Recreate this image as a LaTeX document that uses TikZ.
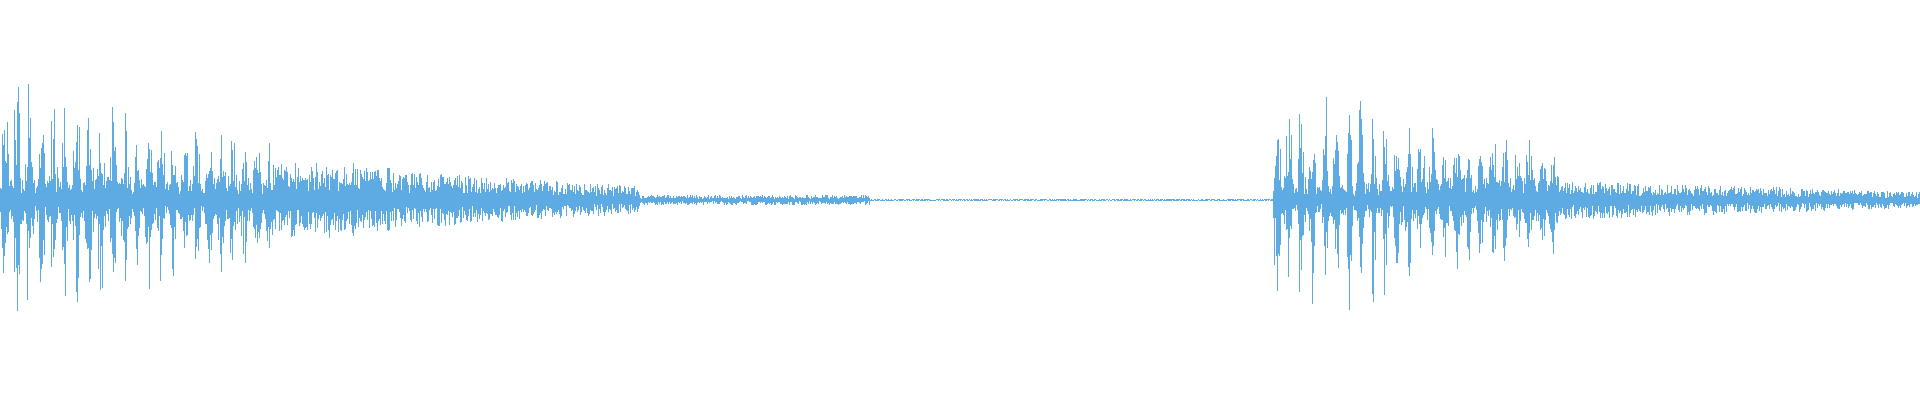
\documentclass[tikz,border=0pt]{standalone}
\begin{document}
\begin{tikzpicture}[x=1pt,y=1pt]
\definecolor{wave}{RGB}{94,170,226}
\tikzset{wavestroke/.style={draw=wave,line width=0.8pt}}
\useasboundingbox (0,0) rectangle (1920,400);
\pgfmathsetseed{7}
\foreach \i in {0,...,1919}{
  \pgfmathsetmacro\ph{mod(\i,24)*15+rnd*40}
  \pgfmathsetmacro\bb{pow(abs(sin(\ph)),4)}
  \pgfmathsetmacro\fa{(\i-270)/370}
  \pgfmathsetmacro\fb{(\i-1560)/360}
  \pgfmathsetmacro\fc{\i/270}
  \pgfmathsetmacro\fd{(\i-1395)/165}
  \pgfmathsetmacro\env{\i<270 ? 22+100*\bb*(1-0.55*\fc) :
     (\i<640 ? 36-22*\fa + 6*\bb*(\i<400) :
     (\i<870 ? 5 :
     (\i<1273 ? 1 :
     (\i<1395 ? 16+100*\bb :
     (\i<1560 ? 22+60*\bb*(1-0.4*\fd) :
     20-12*\fb)))))}
  \pgfmathsetmacro\wtop{200+\env*(0.25+0.75*rnd)}
  \pgfmathsetmacro\wbot{200-\env*(0.25+0.75*rnd)}
  \draw[wavestroke] (\i,\wbot) -- (\i,\wtop);
}
\end{tikzpicture}
\end{document}
